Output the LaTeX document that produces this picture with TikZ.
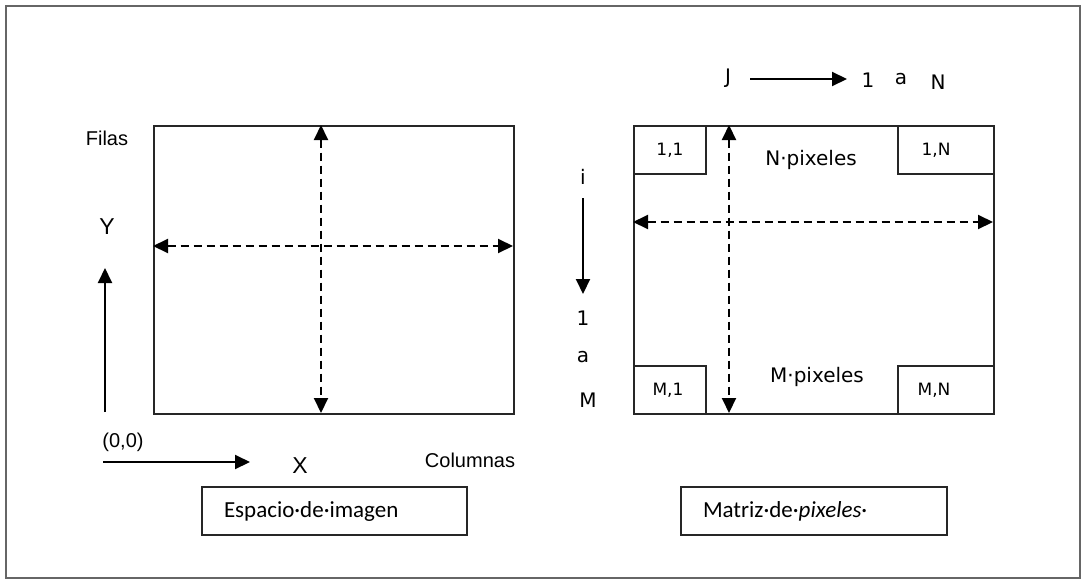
\documentclass[tikz,border=0pt]{standalone}
\usepackage{fontspec}
\setmainfont{Liberation Sans}
\newfontfamily\dejavu{DejaVu Sans}
\newfontfamily\carlito{Carlito}
\usetikzlibrary{arrows.meta}
\begin{document}
\begin{tikzpicture}[x=1pt,y=-1pt,
  box/.style={draw=black!85, line width=2pt, inner sep=0pt, anchor=north west},
  tipshape/.style={},
  solidarrow/.style={-{Triangle[length=15pt,width=14pt]}, line width=2pt},
  dasharrow/.style={{Triangle[length=15pt,width=14pt]}-{Triangle[length=15pt,width=14pt]}, line width=2pt, dash pattern=on 8pt off 5pt},
  arial/.style={inner sep=0pt, font=\fontsize{20}{24}\selectfont},
  big/.style={inner sep=0pt, font=\fontsize{23}{27}\selectfont},
  dv/.style={inner sep=0pt, font=\dejavu\fontsize{20}{24}\selectfont},
  dvs/.style={inner sep=0pt, font=\dejavu\fontsize{17}{20}\selectfont},
  caption/.style={box, align=left, inner xsep=22pt, font=\carlito\fontsize{23}{27}\selectfont}
]
\useasboundingbox (0,0) rectangle (1083,581);
\node[draw=black!60, line width=2pt, inner sep=0pt, anchor=north west, minimum width=1074, minimum height=572] (frame) at (5,5) {};

% ---------- left: image space ----------
\node[box, minimum width=360, minimum height=288] (img) at (153,125) {};
\coordinate (v1t) at (321,125);
\coordinate (v1b) at (321,413);
\coordinate (h1l) at (153,246);
\coordinate (h1r) at (513,246);
\draw[dasharrow] (v1t) -- (v1b);
\draw[dasharrow] (h1l) -- (h1r);

\node[arial] (filas) at (107,138) {Filas};
\node[big] (ylbl) at (107,227) {Y};
\coordinate (ya0) at (105,412);
\coordinate (ya1) at (105,268);
\draw[solidarrow] (ya0) -- (ya1);
\node[arial] (orig) at (123,442) {(0,0)};
\coordinate (xa0) at (103,462);
\coordinate (xa1) at (250,462);
\draw[solidarrow] (xa0) -- (xa1);
\node[big] (xlbl) at (300,466) {X};
\node[arial] (cols) at (470,460) {Columnas};
\node[caption, text width=221pt, minimum height=48] (esp) at (201,486) {Espacio·de·imagen};

% ---------- right: pixel matrix ----------
\node[box, minimum width=360, minimum height=288] (mat) at (633,125) {};
\node[box, minimum width=72, minimum height=48] (c11) at (633,125) {};
\node[box, minimum width=96, minimum height=48] (c1N) at (897,125) {};
\node[box, minimum width=72, minimum height=48] (cM1) at (633,365) {};
\node[box, minimum width=96, minimum height=48] (cMN) at (897,365) {};
\node[dvs] (t11) at (670,150) {1,1};
\node[dvs] (t1N) at (936,150) {1,N};
\node[dvs] (tM1) at (668,390) {M,1};
\node[dvs] (tMN) at (934,390) {M,N};
\node[dv] (npix) at (811,160) {N·pixeles};
\node[dv] (mpix) at (817,377) {M·pixeles};

\coordinate (v2t) at (729,125);
\coordinate (v2b) at (729,413);
\coordinate (h2l) at (633,222);
\coordinate (h2r) at (993,222);
\draw[dasharrow] (v2t) -- (v2b);
\draw[dasharrow] (h2l) -- (h2r);

\node[dv] (ilbl) at (583,177) {i};
\coordinate (ia0) at (583,198);
\coordinate (ia1) at (583,294);
\draw[solidarrow] (ia0) -- (ia1);
\node[dv] (i1) at (583,318) {1};
\node[dv] (ia) at (583,357) {a};
\node[dv] (iM) at (588,400) {M};

\node[dv] (jlbl) at (728,78) {J};
\coordinate (ja0) at (750,79);
\coordinate (ja1) at (847,79);
\draw[solidarrow] (ja0) -- (ja1);
\node[dv] (j1) at (868,80) {1};
\node[dv] (ja) at (901,79) {a};
\node[dv] (jN) at (938,82) {N};

\node[caption, text width=222pt, minimum height=48] (mtx) at (680,486) {Matriz·de·\textit{pixeles}·};
\end{tikzpicture}
\end{document}
